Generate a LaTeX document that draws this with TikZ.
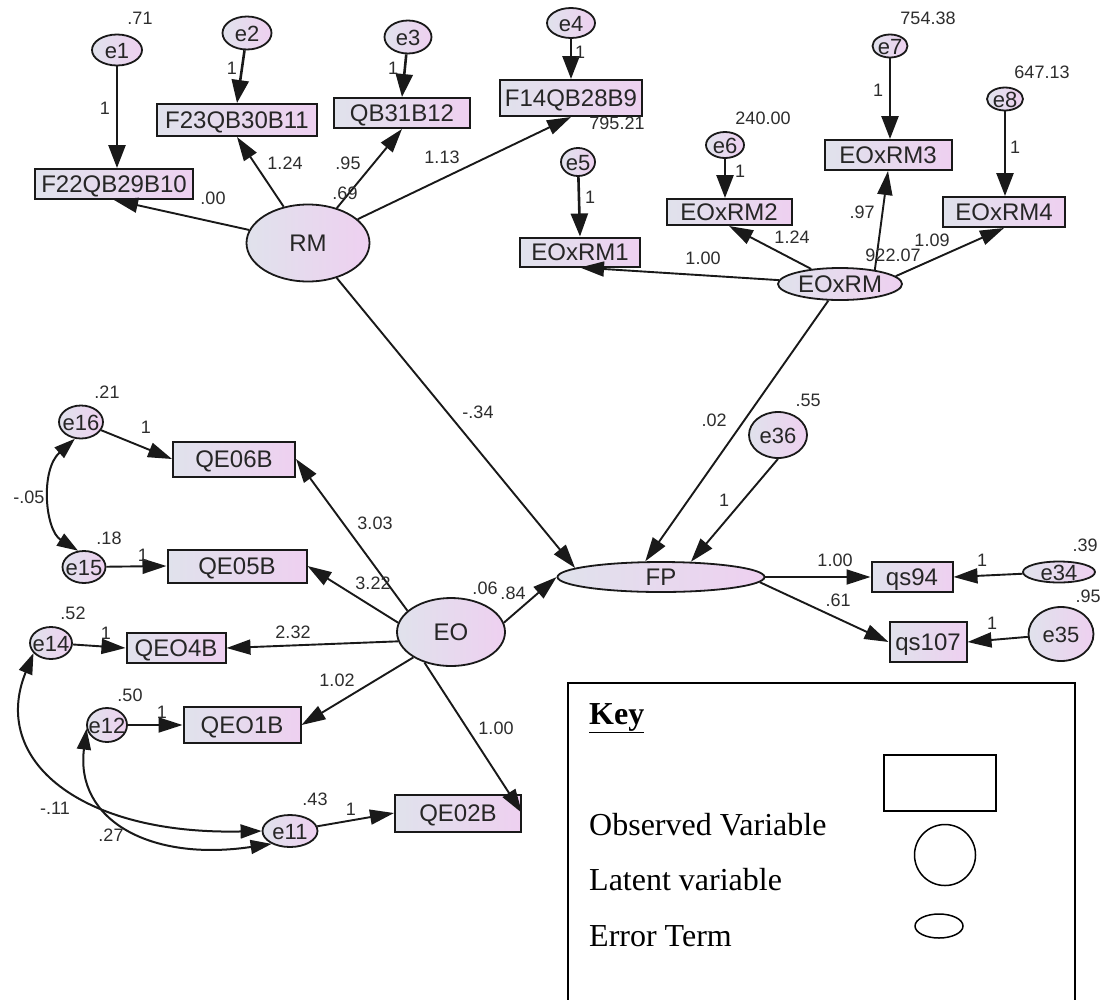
\documentclass[tikz,border=0pt]{standalone}
\usepackage{fontspec}
\setmainfont{Liberation Serif}
\newfontfamily\arialf{Liberation Sans}
\usetikzlibrary{shapes.geometric,arrows.meta}
\definecolor{fillL}{RGB}{224,226,236}
\definecolor{fillR}{RGB}{238,208,240}
\definecolor{edgec}{RGB}{25,25,25}
\definecolor{numc}{RGB}{45,45,45}
\tikzset{
  sz/.style 2 args={minimum width=#1pt, minimum height=#2pt},
  ntext/.style={font=\arialf\fontsize{24}{26}\selectfont, text=black!85, inner sep=0pt, text height=17pt, text depth=0pt},
  etext/.style={font=\arialf\fontsize{22}{24}\selectfont, text=black!85, inner sep=0pt, text height=16pt, text depth=0pt},
  obs/.style={rectangle, draw=edgec, line width=2pt, left color=fillL, right color=fillR, inner sep=0pt, label={[ntext]center:#1}},
  lat/.style={ellipse, draw=edgec, line width=1.8pt, left color=fillL, right color=fillR, inner sep=0pt, label={[ntext]center:#1}},
  err/.style={ellipse, draw=edgec, line width=1.8pt, left color=fillL, right color=fillR, inner sep=0pt, label={[etext]center:#1}},
  lbl/.style={font=\arialf\fontsize{18}{20}\selectfont, text=numc, inner sep=0pt, text height=13pt, text depth=0pt},
  arr/.style={draw=edgec, line width=1.9pt, -{Triangle[length=24pt,width=15pt]}},
  earr/.style={draw=edgec, line width=2.6pt, -{Triangle[length=23pt,width=17pt]}},
  cov/.style={draw=edgec, line width=2pt, {Triangle[length=21pt,width=14pt]}-{Triangle[length=21pt,width=14pt]}},
  keyline/.style={draw=black, line width=1.5pt},
  keyfont/.style={font=\fontsize{32}{36}\selectfont, inner sep=0pt},
}
\begin{document}
\begin{tikzpicture}[x=1pt,y=-1pt]
\fill[white] (0,0) rectangle (1107,999);
\useasboundingbox (0,0) rectangle (1107,999);

% ---- RM measurement block ----
\node[err=e1, sz={50}{31}] (e1) at (117,50) {};
\node[err=e2, sz={49}{33}] (e2) at (247,33) {};
\node[err=e3, sz={47}{33}] (e3) at (408,37) {};
\node[err=e4, sz={48}{30}] (e4) at (571,23) {};
\node[obs=F22QB29B10, sz={158}{30}] (F22QB29B10) at (114,184) {};
\node[obs=F23QB30B11, sz={160}{32}] (F23QB30B11) at (237,120) {};
\node[obs=QB31B12, sz={136}{30}] (QB31B12) at (402,113) {};
\node[obs=F14QB28B9, sz={142}{36}] (F14QB28B9) at (571,98) {};
\node[lat=RM, sz={123}{77}] (RM) at (308,243) {};

% ---- EOxRM measurement block ----
\node[err=e5, sz={34}{28}] (e5) at (578,162) {};
\node[err=e6, sz={38}{26}] (e6) at (725,145) {};
\node[err=e7, sz={35}{23}] (e7) at (890,46) {};
\node[err=e8, sz={36}{23}] (e8) at (1005,99) {};
\node[obs=EOxRM1, sz={120}{29}] (EOxRM1) at (580,252) {};
\node[obs=EOxRM2, sz={125}{26}] (EOxRM2) at (729,212) {};
\node[obs=EOxRM3, sz={127}{30}] (EOxRM3) at (888,155) {};
\node[obs=EOxRM4, sz={122}{30}] (EOxRM4) at (1004,212) {};
\node[lat=EOxRM, sz={124}{32}] (EOxRM) at (840,284) {};

% ---- FP block ----
\node[lat=FP, sz={207}{30}] (FP) at (661,577) {};
\node[err=e36, sz={58}{46}] (e36) at (778,435) {};
\node[obs=qs94, sz={81}{30}] (qs94) at (912,577) {};
\node[obs=qs107, sz={77}{40}] (qs107) at (928,642) {};
\node[err=e34, sz={72}{21}] (e34) at (1059,572) {};
\node[err=e35, sz={65}{54}] (e35) at (1061,634) {};

% ---- EO block ----
\node[lat=EO, sz={108}{68}] (EO) at (451,632) {};
\node[err=e16, sz={44}{33}] (e16) at (81,422) {};
\node[err=e15, sz={43}{32}] (e15) at (84,567) {};
\node[err=e14, sz={42}{32}] (e14) at (51,643) {};
\node[err=e12, sz={40}{34}] (e12) at (107,725) {};
\node[err=e11, sz={55}{32}] (e11) at (290,831) {};
\node[obs=QE06B, sz={122}{35}] (QE06B) at (234,459) {};
\node[obs=QE05B, sz={139}{33}] (QE05B) at (237,566) {};
\node[obs=QEO4B, sz={99}{30}] (QEO4B) at (176,648) {};
\node[obs=QEO1B, sz={117}{36}] (QEO1B) at (242,725) {};
\node[obs=QE02B, sz={126}{37}] (QE02B) at (458,813) {};

% ---- error paths ----
\draw[earr] (e1) -- (e1 |- F22QB29B10.north);
\draw[earr] (e2) -- (F23QB30B11.north);
\draw[earr] (e3) -- (QB31B12.north);
\draw[earr] (e4) -- (F14QB28B9.north);
\draw[earr] (e5) -- (EOxRM1.north);
\draw[earr] (e6) -- (e6 |- EOxRM2.north);
\draw[earr] (e7) -- (e7 |- EOxRM3.north);
\draw[earr] (e8) -- (e8 |- EOxRM4.north);
\draw[arr] (e36.south) -- (FP.27);
\draw[arr] (e34) -- (qs94.east);
\draw[arr] (e35) -- (qs107.east);
\draw[arr] (e16) -- (QE06B.west);
\draw[arr] (e15) -- (QE05B.west);
\draw[arr] (e14) -- (QEO4B.west);
\draw[arr] (e12) -- (QEO1B.west);
\draw[arr] (e11) -- (QE02B.west);

% ---- loadings and structural paths ----
\draw[arr] (RM) -- (F22QB29B10.south);
\draw[arr] (RM) -- (F23QB30B11.south);
\draw[arr] (RM) -- (QB31B12.south);
\draw[arr] (RM) -- (F14QB28B9.south);
\draw[arr] (RM) -- (FP.174);
\draw[arr] (EOxRM) -- (EOxRM1.south);
\draw[arr] (EOxRM) -- (EOxRM2.south);
\draw[arr] (EOxRM.22) -- (EOxRM3.south);
\draw[arr] (EOxRM.8) -- (EOxRM4.south);
\draw[arr] (EOxRM) -- (FP.135);
\draw[arr] (EO.10) -- (FP.west);
\draw[arr] (EO.154) -- (QE06B.east);
\draw[arr] (EO.170) -- (QE05B.east);
\draw[arr] (EO.190) -- (QEO4B.east);
\draw[arr] (EO.214) -- (QEO1B.east);
\draw[arr] (EO.229) -- (QE02B.east);
\draw[arr] (FP.east) -- (qs94.west);
\draw[arr] (FP.-3) -- (qs107.west);

% ---- covariances ----
\draw[cov] (e16.250) .. controls (40,470) and (45,530) .. (e15.110);
\draw[cov] (e14.210) .. controls (-10,760) and (80,835) .. (e11.west);
\draw[cov] (e12.190) .. controls (75,820) and (150,862) .. (e11.215);

% ---- estimates ----
\node[lbl] (v1) at (140,18) {.71};
\node[lbl] (w1) at (105,108) {1};
\node[lbl] (p1) at (213,198) {.00};
\node[lbl] (w2) at (232,68) {1};
\node[lbl] (p2) at (285,163) {1.24};
\node[lbl] (w3) at (393,68) {1};
\node[lbl] (p3) at (348,163) {.95};
\node[lbl] (v2) at (345,193) {.69};
\node[lbl] (w4) at (580,52) {1};
\node[lbl] (p4) at (442,157) {1.13};
\node[lbl] (v5) at (617,123) {795.21};
\node[lbl] (w5) at (590,197) {1};
\node[lbl] (p5) at (703,258) {1.00};
\node[lbl] (v6) at (763,118) {240.00};
\node[lbl] (w6) at (740,171) {1};
\node[lbl] (p6) at (792,237) {1.24};
\node[lbl] (v7) at (928,18) {754.38};
\node[lbl] (w7) at (878,90) {1};
\node[lbl] (p7) at (862,212) {.97};
\node[lbl] (v8) at (1042,72) {647.13};
\node[lbl] (w8) at (1015,147) {1};
\node[lbl] (v9) at (893,255) {922.07};
\node[lbl] (p8) at (932,240) {1.09};
\node[lbl] (p9) at (478,412) {-.34};
\node[lbl] (p10) at (714,420) {.02};
\node[lbl] (v10) at (808,400) {.55};
\node[lbl] (w9) at (724,500) {1};
\node[lbl] (p11) at (835,560) {1.00};
\node[lbl] (p12) at (838,600) {.61};
\node[lbl] (w10) at (982,560) {1};
\node[lbl] (v11) at (1085,545) {.39};
\node[lbl] (v12) at (1088,596) {.95};
\node[lbl] (w11) at (992,623) {1};
\node[lbl] (v13) at (107,392) {.21};
\node[lbl] (w12) at (146,427) {1};
\node[lbl] (c1) at (29,497) {-.05};
\node[lbl] (v14) at (109,538) {.18};
\node[lbl] (w13) at (143,555) {1};
\node[lbl] (p13) at (375,523) {3.03};
\node[lbl] (p14) at (373,583) {3.22};
\node[lbl] (v15) at (485,588) {.06};
\node[lbl] (p15) at (513,593) {.84};
\node[lbl] (v16) at (73,613) {.52};
\node[lbl] (w14) at (106,633) {1};
\node[lbl] (p16) at (293,632) {2.32};
\node[lbl] (v17) at (130,695) {.50};
\node[lbl] (w15) at (162,712) {1};
\node[lbl] (p17) at (337,680) {1.02};
\node[lbl] (p18) at (496,728) {1.00};
\node[lbl] (v18) at (315,799) {.43};
\node[lbl] (w16) at (351,809) {1};
\node[lbl] (c2) at (55,808) {-.11};
\node[lbl] (c3) at (111,835) {.27};

% ---- key ----
\draw[keyline] (568,1003) -- (568,683) -- (1075,683) -- (1075,1003);
\node[keyfont, anchor=base west] (ktitle) at (589,724) {\underline{\textbf{Key}}};
\node[keyfont, anchor=base west] (kobs) at (589,835) {Observed Variable};
\node[keyfont, anchor=base west] (klat) at (589,890) {Latent variable};
\node[keyfont, anchor=base west] (kerr) at (589,946) {Error Term};
\node[rectangle, keyline, sz={112}{56}] (krect) at (940,783) {};
\node[circle, keyline, minimum size=61pt] (kcirc) at (945,855) {};
\node[ellipse, keyline, sz={48}{24}] (kell) at (939,926) {};
\end{tikzpicture}
\end{document}
